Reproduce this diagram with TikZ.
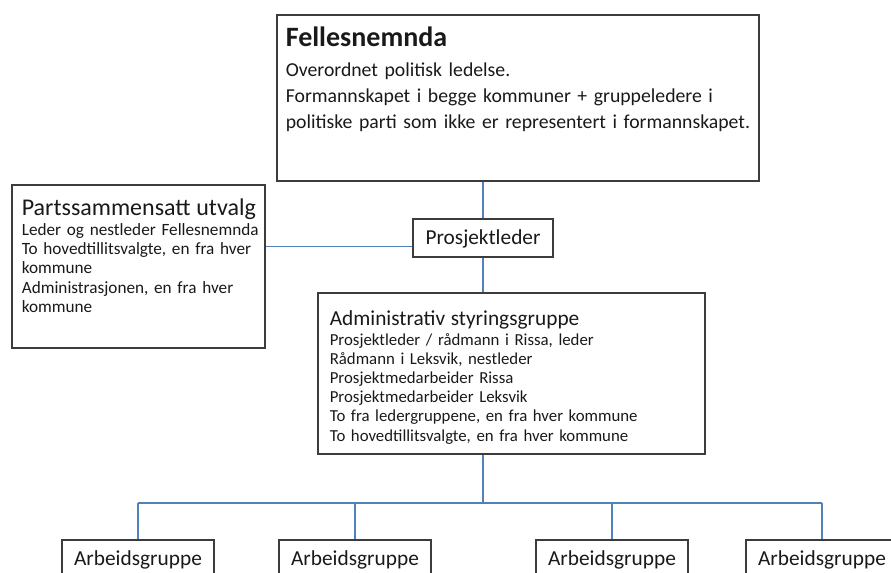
\documentclass[tikz,border=0pt]{standalone}
\usepackage{fontspec}
\setmainfont{Carlito}
\usetikzlibrary{positioning}
\definecolor{linkblue}{RGB}{79,129,189}
\definecolor{boxgray}{RGB}{60,60,60}
\definecolor{textgray}{RGB}{25,25,25}
\newcommand{\bigtext}{\fontsize{14.8}{19.5}\selectfont}
\newcommand{\smalltext}{\fontsize{12.9}{14.5}\selectfont}

\begin{document}
\begin{tikzpicture}[x=0.75pt, y=-0.75pt,
    orgbox/.style={draw=boxgray, line width=1.2pt, inner ysep=0pt, text=textgray, align=left},
    link/.style={draw=linkblue, line width=0.9pt}]
    \useasboundingbox (0,0) rectangle (891,573);

    % boxes
    \node[orgbox, anchor=north west, inner xsep=6.75pt, text width=348pt, text height=24pt, text depth=100.5pt, font=\bigtext] (felles) at (276,14)
        {\mbox{\fontsize{21}{25}\selectfont\bfseries Fellesnemnda}\\[3pt]
         \mbox{Overordnet politisk ledelse.}\\
         \mbox{Formannskapet i begge kommuner + gruppeledere i}\\
         \mbox{politiske parti som ikke er representert i formannskapet.}};
    \node[orgbox, anchor=north west, inner xsep=7.5pt, text width=174.75pt, text height=23.25pt, text depth=99pt, font=\smalltext] (parts) at (11,184)
        {\mbox{\fontsize{18}{21}\selectfont Partssammensatt utvalg}\\
         \mbox{Leder og nestleder Fellesnemnda}\\
         \mbox{To hovedtillitsvalgte, en fra hver}\\
         kommune\\
         \mbox{Administrasjonen, en fra hver}\\
         kommune};
    \node[orgbox, anchor=north, inner xsep=0pt, minimum width=105pt, text height=19.1pt, text depth=9.4pt, font=\fontsize{16}{19.5}\selectfont] (prosj) at (483,218) {Prosjektleder};
    \node[orgbox, anchor=north west, inner xsep=9pt, text width=272.25pt, text height=24.75pt, text depth=96pt, font=\fontsize{12.6}{14.4}\selectfont] (admin) at (317,292)
        {\mbox{\fontsize{16}{19.5}\selectfont Administrativ styringsgruppe}\\
         \mbox{Prosjektleder / rådmann i Rissa, leder}\\
         \mbox{Rådmann i Leksvik, nestleder}\\
         \mbox{Prosjektmedarbeider Rissa}\\
         \mbox{Prosjektmedarbeider Leksvik}\\
         \mbox{To fra ledergruppene, en fra hver kommune}\\
         \mbox{To hovedtillitsvalgte, en fra hver kommune}};
    \foreach \x/\n in {138/1, 355/2, 612/3, 822/4}
        \node[orgbox, anchor=north, inner xsep=0pt, minimum width=114pt, text height=19.5pt, text depth=15pt, font=\fontsize{16}{19.5}\selectfont] (arb\n) at (\x,539) {Arbeidsgruppe};

    % connectors
    \coordinate (bus) at (483,503);
    \draw[link] (prosj.north) -- (prosj.north |- felles.south);
    \draw[link] ([yshift=-6.4pt]prosj.west) -- ([yshift=-6.4pt]prosj.west -| parts.east);
    \draw[link] (prosj.south) -- (prosj.south |- admin.north);
    \draw[link] (prosj.south |- admin.south) -- (bus);
    \draw[link] (arb1.north |- bus) -- (arb4.north |- bus);
    \foreach \n in {1,...,4}
        \draw[link] (arb\n.north) -- (arb\n.north |- bus);
\end{tikzpicture}
\end{document}
